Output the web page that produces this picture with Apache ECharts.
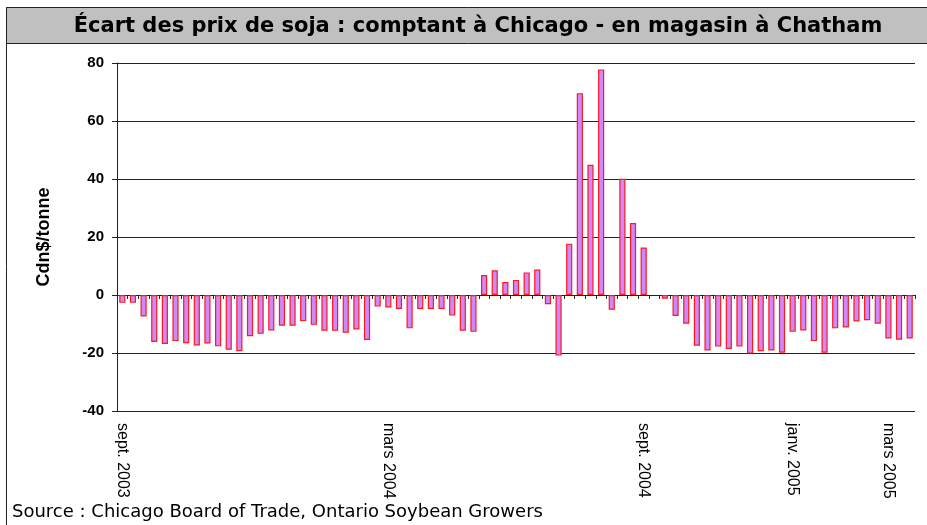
<!DOCTYPE html>
<html>
<head>
<meta charset="utf-8">
<script src="https://cdn.jsdelivr.net/npm/echarts@6/dist/echarts.min.js"></script>
<style>
html,body{margin:0;padding:0;background:#fff;}
#chart{width:927px;height:525px;}
</style>
</head>
<body>
<div id="chart"></div>
<script>
// Weekly spread values (Cdn$/tonne), one per week from sept. 2003 to mars 2005; null = no data
const values = [
  -2.7, -2.7, -7.4, -16.2, -16.9, -15.9, -16.6, -17.4, -16.7, -17.7, -18.9, -19.4, -14.2, -13.4, -12.2, -10.6, -10.6, -9.0, -10.3,
  -12.3, -12.3, -13.0, -11.9, -15.5, -4.0, -4.3, -4.8, -11.5, -4.8, -4.8, -4.8, -7.1, -12.3, -12.7,
  6.9, 8.5, 4.5, 5.2, 7.8, 8.8, -3.2, -20.9, 17.7, 69.6, 44.9, 77.8, -5.1, 40.1, 24.8, 16.4,
  null,
  -1.3, -7.2, -9.9, -17.5, -19.1, -17.8, -18.6, -17.8, -20.2, -19.4, -19.1, -19.9, -12.7, -12.2, -15.9, -19.9, -11.5, -11.2, -9.1, -8.7, -9.9, -15.0, -15.4, -15.0
];
const categories = values.map((v, i) => 'S' + (i + 1));
const tickLabelIndex = [0, 25, 49, 63, 72];
const tickLabels = ['sept. 2003', 'mars 2004', 'sept. 2004', 'janv. 2005', 'mars 2005'];
const yTicks = [-40, -20, 0, 20, 40, 60, 80];

const titleText = 'Écart des prix de soja : comptant à Chicago - en magasin à Chatham';
const yName = 'Cdn$/tonne';
const sourceText = 'Source : Chicago Board of Trade, Ontario Soybean Growers';

const chart = echarts.init(document.getElementById('chart'), null, {renderer: 'canvas'});
const font = "'Liberation Sans', Arial, sans-serif";
const wideFont = "'DejaVu Sans', sans-serif";

chart.setOption({
  backgroundColor: '#ffffff',
  animation: false,
  textStyle: {fontFamily: font},
  title: {
    text: titleText,
    left: 473,
    top: 11,
    textAlign: 'center',
    textStyle: {fontFamily: wideFont, fontSize: 21, fontWeight: 'bold', color: '#000'}
  },
  graphic: [
    {type: 'rect', z: -10, shape: {x: 6.5, y: 7.5, width: 930, height: 36}, style: {fill: '#c0c0c0', stroke: '#222', lineWidth: 1}},
    {type: 'line', z: -10, shape: {x1: 6.5, y1: 7.5, x2: 6.5, y2: 525}, style: {stroke: '#222', lineWidth: 1}},
    {type: 'text', left: 12, top: 503, style: {text: sourceText, font: "18px 'DejaVu Sans', sans-serif", fill: '#000'}}
  ],
  grid: {left: 117, right: 12, top: 63, bottom: 114, containLabel: false},
  xAxis: [
    {
      type: 'category',
      data: categories,
      position: 'bottom',
      boundaryGap: true,
      axisLine: {show: false, onZero: false},
      axisTick: {show: false},
      splitLine: {show: false},
      axisLabel: {
        interval: 0,
        rotate: -90,
        margin: 12,
        fontSize: 16,
        color: '#000',
        fontFamily: font,
        formatter: (val, idx) => {
          const k = tickLabelIndex.indexOf(idx);
          return k >= 0 ? tickLabels[k] : '';
        }
      }
    },
    {
      type: 'category',
      data: categories,
      position: 'top',
      boundaryGap: true,
      axisLine: {show: true, onZero: true, onZeroAxisIndex: 0, lineStyle: {color: '#222', width: 1}},
      axisTick: {show: true, inside: true, interval: 0, length: 4, lineStyle: {color: '#222', width: 1}},
      axisLabel: {show: false},
      splitLine: {show: false}
    }
  ],
  yAxis: {
    type: 'value',
    min: yTicks[0],
    max: yTicks[yTicks.length - 1],
    interval: 20,
    name: yName,
    nameLocation: 'middle',
    nameRotate: 90,
    nameGap: 64,
    nameTextStyle: {fontFamily: font, fontSize: 18, fontWeight: 'bold', color: '#000'},
    axisLine: {show: true, lineStyle: {color: '#222', width: 1}},
    axisTick: {show: true, length: 5, lineStyle: {color: '#222'}},
    axisLabel: {fontSize: 15, fontWeight: 'bold', color: '#000', margin: 13, fontFamily: font},
    splitLine: {show: true, lineStyle: {color: '#222', width: 1}}
  },
  series: [{
    type: 'bar',
    xAxisIndex: 0,
    data: values,
    barWidth: '58%',
    itemStyle: {color: '#cc88ff', borderColor: '#ff1a1a', borderWidth: 1.2}
  }]
});
</script>
</body>
</html>
